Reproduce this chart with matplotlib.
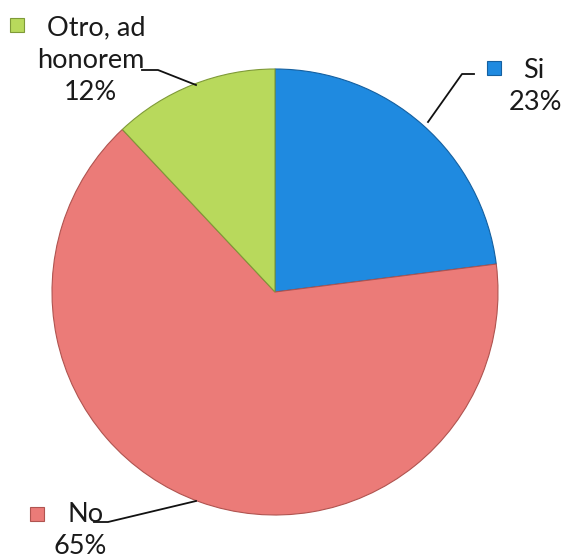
import matplotlib
matplotlib.use("Agg")
import matplotlib.pyplot as plt
from matplotlib.patches import Rectangle

categories = ["Si", "No", "Otro, ad\nhonorem"]
values = [23, 65, 12]
colors = ["#1f8ae0", "#eb7b78", "#b8d95c"]
edge_colors = ["#1560a0", "#b05450", "#7f9a38"]

W, H = 563, 557
fig = plt.figure(figsize=(W / 100, H / 100), dpi=100)
ax = fig.add_axes([0, 0, 1, 1])

cx, cy, r = 275, H - 292, 223
wedges, _ = ax.pie(values, colors=colors, startangle=90, counterclock=False,
                   center=(cx, cy), radius=r, frame=True,
                   wedgeprops=dict(linewidth=0.8))
for w, ec in zip(wedges, edge_colors):
    w.set_edgecolor(ec)
ax.set_xlim(0, W)
ax.set_ylim(0, H)
ax.set_aspect("equal")
ax.axis("off")

font = dict(family=["Lato", "DejaVu Sans"], fontsize=19.5, color="#1a1a1a")


def y(p):
    return H - p


def leader(path):
    ax.plot([p[0] for p in path], [y(p[1]) for p in path],
            color="#111111", linewidth=1.3)


def marker(mx, my, idx):
    ax.add_patch(Rectangle((mx - 7, y(my) - 7), 14, 14, facecolor=colors[idx],
                           edgecolor=edge_colors[idx], linewidth=0.8))


# Si
marker(494, 68, 0)
ax.text(534, y(70), categories[0], ha="center", va="center", **font)
ax.text(536, y(102), f"{values[0]}%", ha="center", va="center", **font)
leader([(474, 74), (462, 74), (428, 122)])

# No
marker(37, 514, 1)
ax.text(67, y(515), categories[1], ha="left", va="center", **font)
ax.text(80, y(546), f"{values[1]}%", ha="center", va="center", **font)
leader([(94, 522), (108, 522), (196, 501)])

# Otro, ad honorem
first, second = categories[2].split("\n")
marker(17, 25, 2)
ax.text(47, y(28), first, ha="left", va="center", **font)
ax.text(91, y(60), second, ha="center", va="center", **font)
ax.text(90, y(92), f"{values[2]}%", ha="center", va="center", **font)
leader([(142, 70), (158, 70), (196, 85)])

fig.savefig("out.png", dpi=100, facecolor="white")
